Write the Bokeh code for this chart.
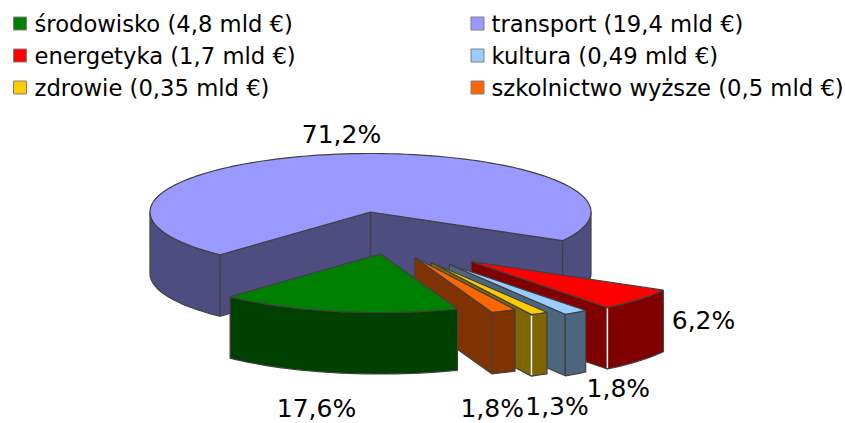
import math
from bokeh.core.properties import value
from bokeh.embed import file_html
from bokeh.models import Range1d
from bokeh.plotting import figure
from bokeh.resources import INLINE

# Data: in clockwise pie order, starting with the big transport slice
categories = ["transport", "energetyka", "kultura", "zdrowie", "szkolnictwo wyższe", "środowisko"]
billions = [19.4, 1.7, 0.49, 0.35, 0.5, 4.8]
amount_labels = ["19,4", "1,7", "0,49", "0,35", "0,5", "4,8"]
share_labels = ["71,2%", "6,2%", "1,8%", "1,3%", "1,8%", "17,6%"]

# Legend reading order
legend_order = ["środowisko", "transport", "energetyka", "kultura", "zdrowie", "szkolnictwo wyższe"]

# Styles and layout
top_colors = ["#9999FF", "#FF0000", "#99CCFF", "#FFCC00", "#FF6600", "#008000"]
side_colors = ["#4D4D80", "#800000", "#4D6680", "#806600", "#803300", "#004000"]
corner_colors = ["#404040", "#FFFFFF", "#404040", "#FFFFFF", "#404040", "#404040"]
pull_x = [0, 100.7, 79, 60.7, 44.3, 10]
pull_y = [0, 49.5, 52.5, 50.5, 45.5, 42]
label_x = [341, 703, 617.8, 556.5, 491.7, 316]
label_y = [134, 320, 388, 406, 408, 408]
CX, CY, RX, RY, DEPTH = 370.0, 211.5, 220.5, 58.5, 61.5
START = 227.0
OUTLINE = "#404040"
FONT = value("DejaVu Sans")

p = figure(width=845, height=423, output_backend="svg", toolbar_location=None,
           x_range=Range1d(0, 845), y_range=Range1d(423, 0), min_border=0)
p.axis.visible = False
p.grid.visible = False
p.outline_line_color = None
p.background_fill_color = "white"
p.border_fill_color = "white"


def pt(ox, oy, deg, extra=0.0):
    r = math.radians(deg)
    return ox + RX * math.cos(r), oy - RY * math.sin(r) + extra


def arc(ox, oy, a, b, extra=0.0, step=2.0):
    n = max(1, int(abs(b - a) / step))
    return [pt(ox, oy, a + (b - a) * i / n, extra) for i in range(n + 1)]


def face(points, color):
    xs = [q[0] for q in points]
    ys = [q[1] for q in points]
    p.patch(xs, ys, fill_color=color, line_color=OUTLINE, line_width=1.2)


def visible_spans(hi, lo):
    """Parts of the rim, hi > lo in degrees, that face the viewer (lower half)."""
    spans = []
    for k in (-1, 0, 1):
        a, b = min(hi, k * 360), max(lo, k * 360 - 180)
        if a > b:
            spans.append((a, b))
    return spans


total = sum(billions)
angle = START
for i, amount in enumerate(billions):
    sweep = amount / total * 360
    hi, lo = angle, angle - sweep
    angle = lo
    ox, oy = CX + pull_x[i], CY + pull_y[i]
    side, top = side_colors[i], top_colors[i]

    # radial walls: seen only when their outward normal points towards the viewer
    if math.sin(math.radians(hi + 90)) < 0:
        e = pt(ox, oy, hi)
        face([(ox, oy), e, (e[0], e[1] + DEPTH), (ox, oy + DEPTH)], side)
    if math.sin(math.radians(lo - 90)) < 0:
        e = pt(ox, oy, lo)
        face([(ox, oy), e, (e[0], e[1] + DEPTH), (ox, oy + DEPTH)], side)

    # rim
    for a, b in visible_spans(hi, lo):
        upper = arc(ox, oy, a, b)
        lower = arc(ox, oy, b, a, DEPTH)
        face(upper + lower, side)

    # white highlight on the corner of a few slices
    if corner_colors[i] != OUTLINE:
        e = pt(ox, oy, lo)
        p.line([e[0], e[0]], [e[1] + 1, e[1] + DEPTH - 1], line_color=corner_colors[i], line_width=1.5)

    # top
    face([(ox, oy)] + arc(ox, oy, hi, lo), top)

    p.text([label_x[i]], [label_y[i]], text=[share_labels[i]], text_font=FONT,
           text_font_size=value("25px"), text_align="center", text_baseline="middle",
           text_color="#000000")

# Legend
legend_col_x = [13, 470.5]
legend_text_x = [34, 491]
legend_row_y = [23, 55, 87]
for n, name in enumerate(legend_order):
    i = categories.index(name)
    col, row = n % 2, n // 2
    x0, yc = legend_col_x[col], legend_row_y[row]
    p.quad(left=[x0], right=[x0 + 13], top=[yc - 6.5], bottom=[yc + 6.5],
           fill_color=top_colors[i], line_color="#808080", line_width=1)
    p.text([legend_text_x[col]], [yc], text=[f"{name} ({amount_labels[i]} mld €)"],
           text_font=FONT, text_font_size=value("22.7px"), text_align="left",
           text_baseline="middle", text_color="#000000")

open("out.html", "w").write(file_html(p, INLINE))
